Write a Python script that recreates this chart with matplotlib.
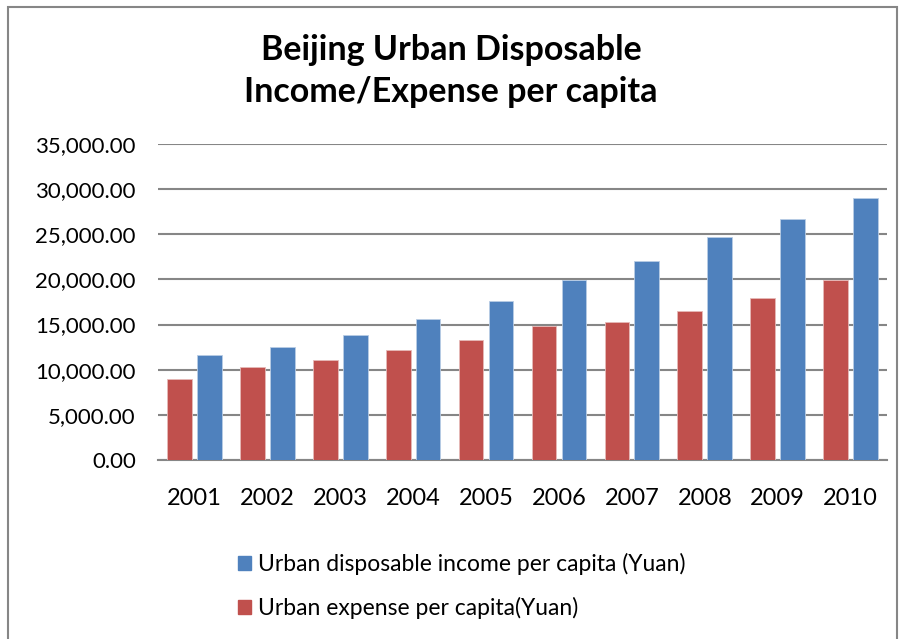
import matplotlib.pyplot as plt
from matplotlib.patches import Rectangle, Patch
from matplotlib.ticker import FuncFormatter
import numpy as np

years = ['2001', '2002', '2003', '2004', '2005', '2006', '2007', '2008', '2009', '2010']
income = [11578, 12464, 13883, 15638, 17653, 19978, 21989, 24725, 26738, 29073]
expense = [8922, 10285, 11124, 12200, 13244, 14825, 15330, 16460, 17893, 19934]

plt.rcParams['font.family'] = ['Lato', 'DejaVu Sans']

blue = '#4F81BD'
red = '#C0504D'
grid = '#868686'

fig = plt.figure(figsize=(9, 6.39), dpi=100)
ax = fig.add_axes([158 / 900, 1 - 460 / 639, 729 / 900, 316 / 639])

x = np.arange(len(years))
w = 0.34
ax.bar(x - 0.205, expense, w, color=red, edgecolor='#E6B9B8', linewidth=0.6, zorder=3)
ax.bar(x + 0.205, income, w, color=blue, edgecolor='#B9CDE5', linewidth=0.6, zorder=3)

ax.set_xlim(-0.5, len(years) - 0.5)
ax.set_ylim(0, 35000)
ax.set_yticks(np.arange(0, 35001, 5000))
ax.yaxis.set_major_formatter(FuncFormatter(lambda v, p: f"{v:,.2f}"))
ax.set_xticks(x)
ax.set_xticklabels(years)
ax.grid(axis='y', color=grid, linewidth=1.5, zorder=0)
for s in ['left', 'right', 'top']:
    ax.spines[s].set_visible(False)
ax.spines['bottom'].set_color(grid)
ax.spines['bottom'].set_linewidth(1.5)
ax.tick_params(axis='y', length=0, pad=16, labelsize=16)
ax.tick_params(axis='x', length=0, pad=20, labelsize=17)

fig.text(451 / 900, 1 - 71 / 639, "Beijing Urban Disposable\nIncome/Expense per capita",
         ha='center', va='center', fontsize=24.5, fontweight='bold', linespacing=1.4)

handles = [Patch(color=blue), Patch(color=red)]
labels = ['Urban disposable income per capita (Yuan)', 'Urban expense per capita(Yuan)']
fig.legend(handles, labels, loc='center left', bbox_to_anchor=(217 / 900, 1 - 586 / 639),
           frameon=False, fontsize=16.5, handlelength=0.6, handleheight=0.6,
           handletextpad=0.3, labelspacing=0.95)

fig.patches.append(Rectangle((8 / 900, -0.05), 889 / 900, 1.05 - 7 / 639,
                             transform=fig.transFigure, fill=False,
                             edgecolor='#868686', linewidth=1.5))

fig.savefig('out.png', dpi=100)
